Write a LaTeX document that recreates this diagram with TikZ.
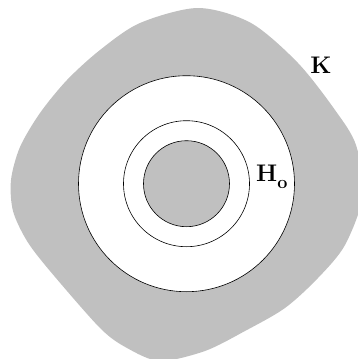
\documentclass[tikz,border=0pt]{standalone}
\usepackage{fontspec}
\begin{document}
\begin{tikzpicture}[x=1pt,y=-1pt,
  ring/.style={draw=black,line width=0.6pt},
  lbl/.style={inner sep=0pt,font=\fontsize{24}{28}\selectfont\bfseries}]
\definecolor{kgray}{RGB}{192,192,192}
\useasboundingbox (0,0) rectangle (358,359);
\begin{scope}
\clip (0,0) rectangle (358,359);
\fill[kgray] plot[smooth cycle,tension=0.5] coordinates {
 (198,8) (251,23) (298,63) (335,110) (356,145) (363,195) (345,245)
 (318,278) (285,308) (245,331) (205,351) (160,361) (127,348)
 (100,328) (50,271) (27,241) (13,211) (11,180) (20,147) (40,113)
 (67,80) (100,50) (140,23)};
\end{scope}
\coordinate (c) at (186.5,183.7);
\draw[ring,fill=white] (c) circle[radius=108];
\draw[ring] (c) circle[radius=63];
\draw[ring,fill=kgray] (c) circle[radius=43];
\node[lbl,anchor=base] (K) at (321,73.5) {K};
\node[lbl,anchor=base west] (H) at (256,181.5) {H\raisebox{-7pt}{\fontsize{18}{20}\selectfont o}};
\end{tikzpicture}
\end{document}
